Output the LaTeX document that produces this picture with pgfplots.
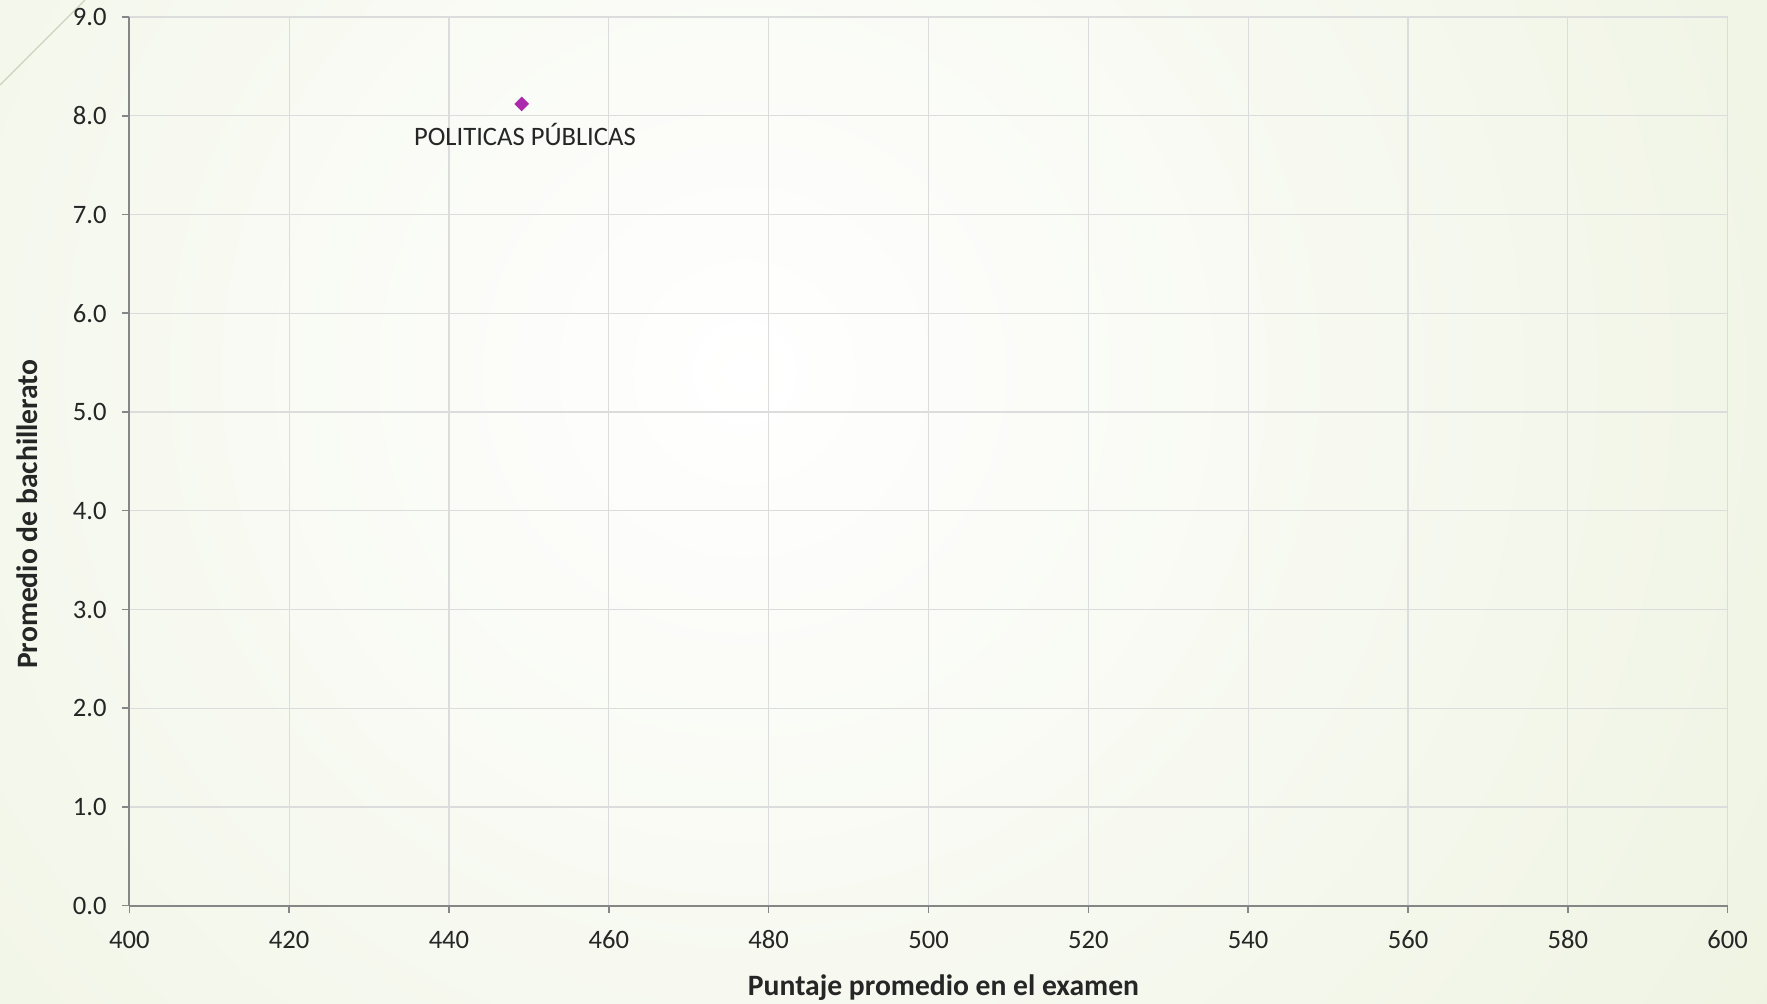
\documentclass[border=0pt]{standalone}
\usepackage{fontspec}
\setmainfont{Carlito}
\usepackage{pgfplots}
\pgfplotsset{compat=1.18}
\definecolor{bgout}{RGB}{224,233,200}
\definecolor{gridc}{RGB}{220,220,220}
\definecolor{axc}{RGB}{134,134,134}
\definecolor{mk}{RGB}{172,42,172}
\definecolor{txt}{RGB}{38,38,38}
\definecolor{deco}{RGB}{205,210,188}
\begin{document}
\begin{tikzpicture}
\path[use as bounding box, fill=bgout] (-64.65pt,-48.65pt) rectangle (818.85pt,452.85pt);
\begin{scope}
\clip (-64.65pt,-48.65pt) rectangle (818.85pt,452.85pt);
\shade[inner color=white, outer color=bgout] (307.35pt,266.85pt) circle (1150pt);
\draw[deco, line width=0.6pt] (-64.65pt,410.35pt) -- (-22.15pt,452.85pt);
\end{scope}
\begin{axis}[
  at={(0,0)}, anchor=south west,
  scale only axis, width=799.2pt, height=444.35pt,
  xmin=400, xmax=600, ymin=0, ymax=9,
  xtick distance=20, ytick distance=1,
  axis x line*=bottom, axis y line*=left,
  axis line style={-, draw=axc, line width=1pt},
  tick style={draw=axc, line width=0.75pt},
  major tick length=3.5pt, tick align=outside,
  grid=major, major grid style={draw=gridc, line width=0.6pt},
  /pgf/number format/assume math mode=true,
  yticklabel style={/pgf/number format/fixed, /pgf/number format/fixed zerofill, /pgf/number format/precision=1},
  xticklabel style={anchor=base, yshift=-17.8pt, inner sep=0pt, font=\fontsize{13.3}{16}\selectfont, text=txt},
  yticklabel style={anchor=east, xshift=-7.65pt, inner sep=0pt, font=\fontsize{13.3}{16}\selectfont, text=txt},
  xlabel={Puntaje promedio en el examen},
  ylabel={Promedio de bachillerato},
  xlabel style={at={(axis description cs:0.5094,-0.1005)}, anchor=base, inner sep=0pt, font=\bfseries\fontsize{14.8}{18}\selectfont, text=txt},
  ylabel style={at={(axis description cs:-0.0574,0.4408)}, anchor=base, inner sep=0pt, font=\bfseries\fontsize{14.8}{18}\selectfont, text=txt},
]
\addplot[only marks, mark=square*, mark size=2.4pt, mark options={rotate=45, fill=mk, draw=mk},
  nodes near coords, point meta=explicit symbolic,
  every node near coord/.append style={anchor=base, inner sep=0pt, yshift=-21pt, xshift=1.6pt, font=\fontsize{13.3}{16}\selectfont, text=txt}]
  coordinates {(449.1,8.12) [POLITICAS PÚBLICAS]};
\end{axis}
\end{tikzpicture}
\end{document}
